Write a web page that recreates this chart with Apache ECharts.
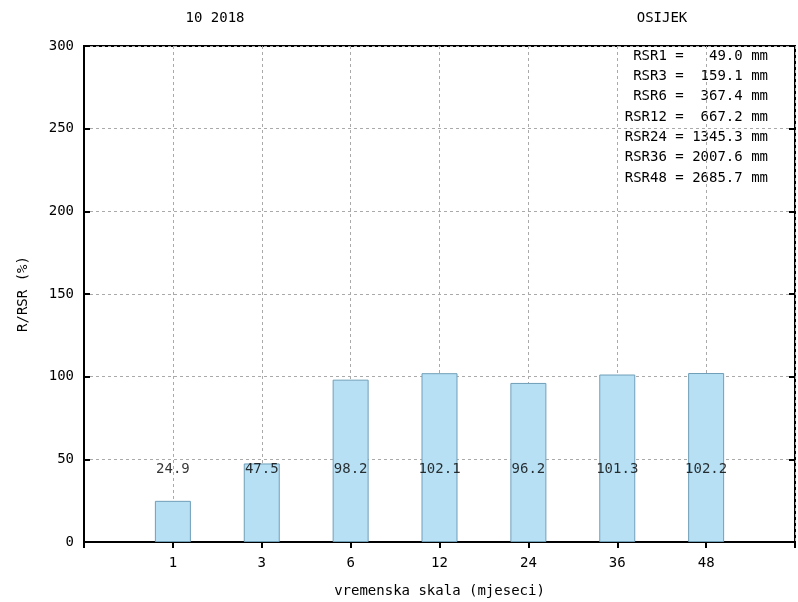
<!DOCTYPE html>
<html><head><meta charset="utf-8">
<script src="https://cdn.jsdelivr.net/npm/echarts@6/dist/echarts.min.js"></script>
<style>html,body{margin:0;padding:0;background:#fff}#c{width:798px;height:602px}</style>
</head><body><div id="c"></div>
<script>
var categories = ['1','3','6','12','24','36','48'];
var values = [24.9, 47.5, 98.2, 102.1, 96.2, 101.3, 102.2];
var rsrNames = ['RSR1','RSR3','RSR6','RSR12','RSR24','RSR36','RSR48'];
var rsrValues = ['49.0','159.1','367.4','667.2','1345.3','2007.6','2685.7'];
var yTicks = [0, 50, 100, 150, 200, 250, 300];
var titleLeft = '10 2018';
var titleRight = 'OSIJEK';
var xName = 'vremenska skala (mjeseci)';
var yName = 'R/RSR (%)';

var FONT = 'DejaVu Sans Mono';
var cats = [''].concat(categories).concat(['']);
var barData = ['-'].concat(values).concat(['-']);
var labelY = 44;
var labelData = values.map(function(v, i){ return {value: [i + 1, labelY], v: v}; });

function pad(s, n){ while (s.length < n) s = ' ' + s; return s; }
var infoLines = rsrNames.map(function(n, i){
  return pad(n, 5) + ' = ' + pad(rsrValues[i], 6) + ' mm';
});

var chart = echarts.init(document.getElementById('c'), null, {renderer: 'canvas'});
var gridLine = {show: true, lineStyle: {color: '#aaa', type: [3, 3], width: 1}};
chart.setOption({
  animation: false,
  textStyle: {fontFamily: FONT, color: '#000'},
  grid: {left: 84, right: 3, top: 46, bottom: 60, containLabel: false, outerBoundsMode: 'none',
         show: true, borderColor: '#000', borderWidth: 2, backgroundColor: 'transparent'},
  graphic: [
    {type: 'text', x: 215, y: 18, style: {text: titleLeft, font: '14px ' + FONT, fill: '#000', textAlign: 'center', textVerticalAlign: 'middle'}},
    {type: 'text', x: 662, y: 18, style: {text: titleRight, font: '14px ' + FONT, fill: '#000', textAlign: 'center', textVerticalAlign: 'middle'}},
    {type: 'text', x: 768, y: 46, style: {text: infoLines.join('\n'), font: '14px ' + FONT, fill: '#000', textAlign: 'right', lineHeight: 20.3}}
  ],
  xAxis: [
    {type: 'category', data: cats, boundaryGap: false, position: 'bottom',
     axisLine: {show: true, lineStyle: {color: '#000', width: 2}},
     axisTick: {show: false},
     axisLabel: {fontFamily: FONT, fontSize: 14, color: '#000', margin: 14},
     splitLine: gridLine,
     name: xName, nameLocation: 'middle', nameGap: 42,
     nameTextStyle: {fontFamily: FONT, fontSize: 14, color: '#000'}},
    {type: 'category', data: cats, boundaryGap: false, position: 'top',
     axisLine: {show: false},
     axisTick: {show: true, inside: true, length: 6, lineStyle: {color: '#000', width: 2}},
     axisLabel: {show: false}, splitLine: {show: false}}
  ],
  yAxis: [
    {type: 'value', min: 0, max: 300, interval: 50, position: 'left',
     axisLine: {show: true, lineStyle: {color: '#000', width: 2}},
     axisTick: {show: true, inside: true, length: 6, lineStyle: {color: '#000', width: 2}},
     axisLabel: {fontFamily: FONT, fontSize: 14, color: '#000', margin: 10},
     splitLine: gridLine,
     name: yName, nameLocation: 'middle', nameGap: 54, nameRotate: 90,
     nameTextStyle: {fontFamily: FONT, fontSize: 14, color: '#000'}},
    {type: 'value', min: 0, max: 300, interval: 50, position: 'right',
     axisLine: {show: false},
     axisTick: {show: true, inside: true, length: 6, lineStyle: {color: '#000', width: 2}},
     axisLabel: {show: false}, splitLine: {show: false}}
  ],
  series: [
    {type: 'bar', data: barData, barWidth: 36, xAxisIndex: 0, yAxisIndex: 0,
     itemStyle: {color: '#b8e0f4', borderColor: '#6f9fb8', borderWidth: 1}, z: 2},
    {type: 'scatter', data: labelData, symbolSize: 0, xAxisIndex: 0, yAxisIndex: 0, z: 5,
     label: {show: true, position: 'inside', fontFamily: FONT, fontSize: 14, color: '#000',
       formatter: function(p){ return p.data.v.toFixed(1); }}}
  ]
});
</script></body></html>
